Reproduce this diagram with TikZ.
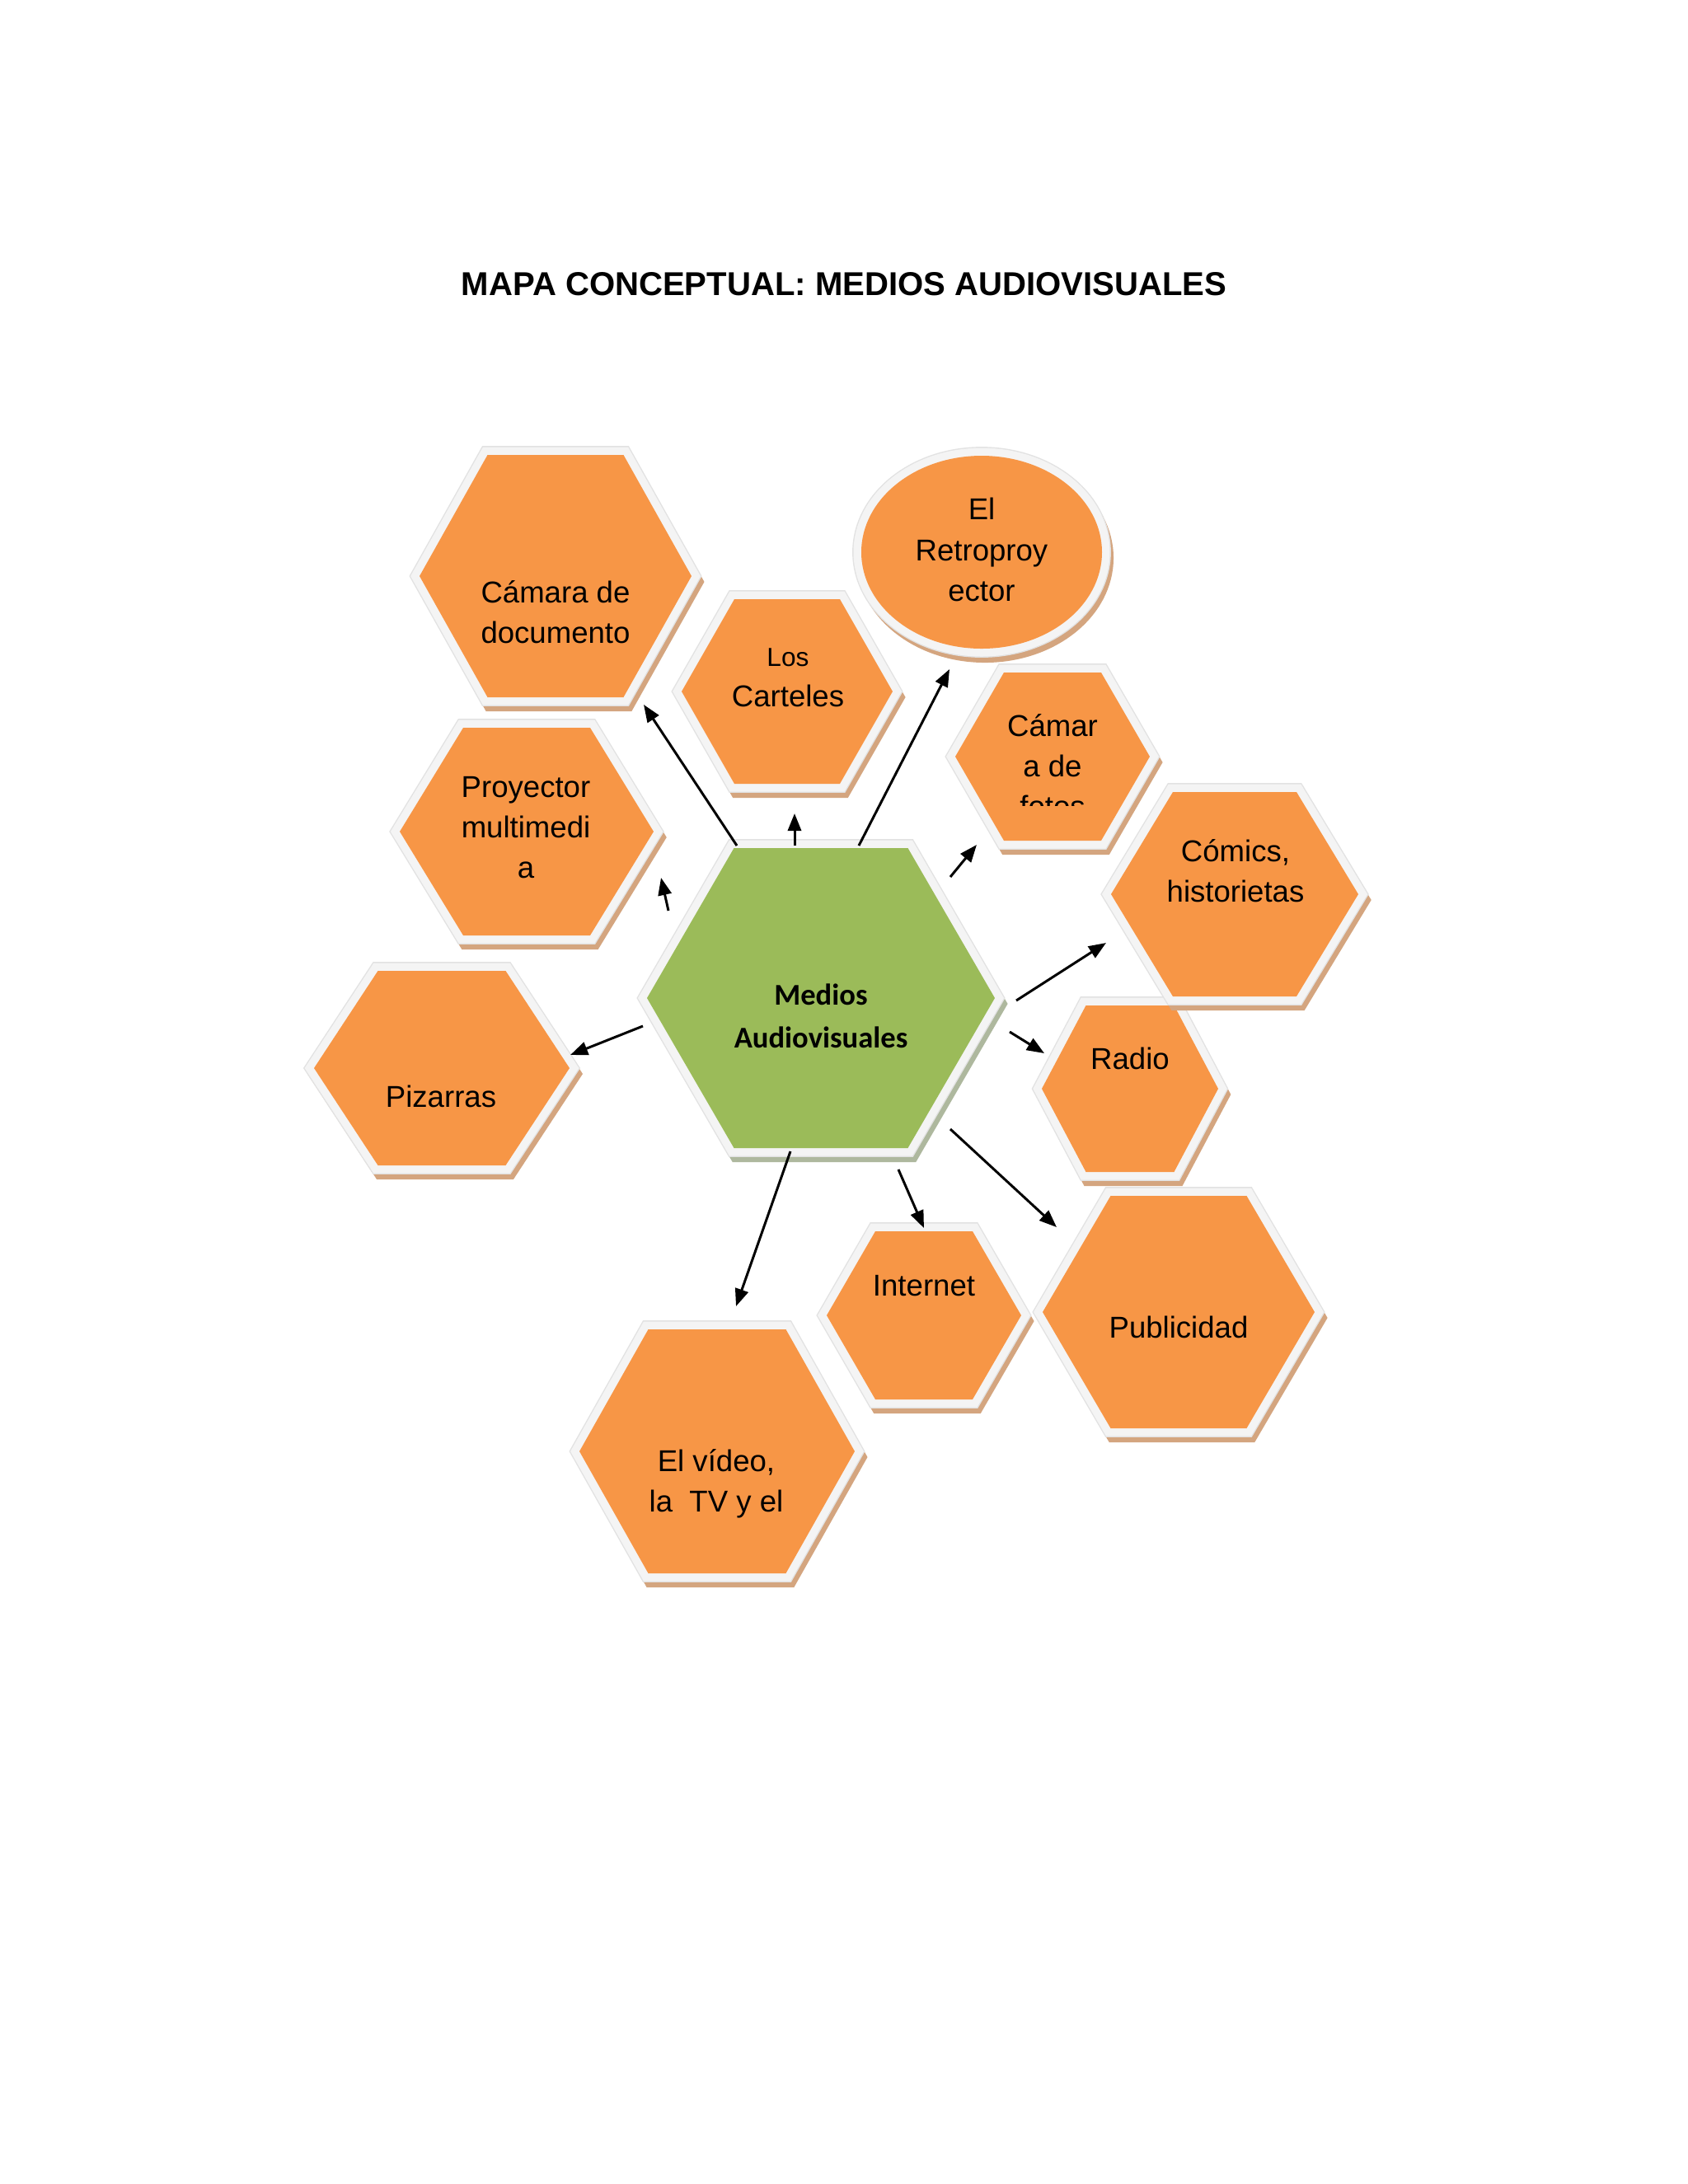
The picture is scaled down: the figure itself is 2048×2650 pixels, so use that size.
\documentclass[tikz,border=0pt]{standalone}
\usepackage{fontspec}
\setmainfont{Liberation Sans}
\newfontfamily\calibrifont{Carlito}
\usetikzlibrary{arrows.meta}
\definecolor{orangefill}{HTML}{F79646}
\definecolor{greenfill}{HTML}{9BBB59}
\definecolor{tanshadow}{HTML}{D4A57F}
\definecolor{greenshadow}{HTML}{AEB89E}
\definecolor{bandwhite}{HTML}{F4F4F4}
\definecolor{bandedge}{HTML}{E2E2E2}
% hexagon: cx, cy, a (half width), h (half height), fill, shadow
\newcommand\hexshape[6]{%
  \path[fill=#6,draw=#6,line width=5.7pt,line join=miter,shift={(4,7)}]
    ({#1-#3},{#2}) -- ({#1-#3/2},{#2-#4}) -- ({#1+#3/2},{#2-#4}) -- ({#1+#3},{#2}) -- ({#1+#3/2},{#2+#4}) -- ({#1-#3/2},{#2+#4}) -- cycle;
  \path[fill=bandedge,draw=bandedge,line width=6.2pt,line join=miter]
    ({#1-#3},{#2}) -- ({#1-#3/2},{#2-#4}) -- ({#1+#3/2},{#2-#4}) -- ({#1+#3},{#2}) -- ({#1+#3/2},{#2+#4}) -- ({#1-#3/2},{#2+#4}) -- cycle;
  \path[draw=bandwhite,line width=5.4pt,line join=miter]
    ({#1-#3},{#2}) -- ({#1-#3/2},{#2-#4}) -- ({#1+#3/2},{#2-#4}) -- ({#1+#3},{#2}) -- ({#1+#3/2},{#2+#4}) -- ({#1-#3/2},{#2+#4}) -- cycle;
  \path[fill=#5]
    ({#1-#3},{#2}) -- ({#1-#3/2},{#2-#4}) -- ({#1+#3/2},{#2-#4}) -- ({#1+#3},{#2}) -- ({#1+#3/2},{#2+#4}) -- ({#1-#3/2},{#2+#4}) -- cycle;
}
\tikzset{
  lbl/.style={align=center,inner sep=0pt,font=\fontsize{10.4}{14}\selectfont},
  centrelbl/.style={align=center,inner sep=0pt,font=\calibrifont\bfseries\fontsize{10.4}{14.8}\selectfont},
  titlelbl/.style={inner sep=0pt,font=\bfseries\fontsize{11.4}{13}\selectfont},
  arr/.style={line width=0.85pt,-{Triangle[length=6pt,width=4.6pt]}}
}
\begin{document}
\begin{tikzpicture}[x=0.01cm,y=-0.01cm]
\useasboundingbox[fill=white] (0,0) rectangle (2048,2650);

\node[titlelbl] (title) at (1024,345) {MAPA CONCEPTUAL: MEDIOS AUDIOVISUALES};

% shapes
\hexshape{674}{699}{165}{147}{orangefill}{tanshadow}
\hexshape{955}{839}{128}{112}{orangefill}{tanshadow}
% ellipse (retroproyector)
\path[fill=tanshadow,draw=tanshadow,line width=5.7pt,shift={(4,7)}] (1191,670) ellipse [x radius=146,y radius=117];
\path[fill=bandedge,draw=bandedge,line width=6.2pt] (1191,670) ellipse [x radius=146,y radius=117];
\path[draw=bandwhite,line width=5.4pt] (1191,670) ellipse [x radius=146,y radius=117];
\path[fill=orangefill] (1191,670) ellipse [x radius=146,y radius=117];
\hexshape{1277}{918}{118}{102}{orangefill}{tanshadow}
\hexshape{639}{1009}{154}{126}{orangefill}{tanshadow}
\hexshape{536}{1296}{155}{118}{orangefill}{tanshadow}
\hexshape{1371}{1321}{107}{101}{orangefill}{tanshadow}
\hexshape{1498}{1085}{150}{124}{orangefill}{tanshadow}
\hexshape{1121}{1596}{118}{102}{orangefill}{tanshadow}
\hexshape{1430}{1592}{165}{141}{orangefill}{tanshadow}
\hexshape{870}{1761}{167}{148}{orangefill}{tanshadow}
\hexshape{996}{1211}{211}{182}{greenfill}{greenshadow}

% labels
\node[lbl] (doc) at (674,743) {Cámara de\\documento};
\node[lbl] (carteles) at (956,822) {{\fontsize{9}{12}\selectfont Los}\\Carteles};
\node[lbl] (retro) at (1191,667) {El\\Retroproy\\ector};
\begin{scope}
  \clip (1120,820) rectangle (1440,977);
  \node[lbl] (fotos) at (1277,929) {Cámar\\a de\\fotos};
\end{scope}
\node[lbl] (comics) at (1499,1057) {Cómics,\\historietas};
\node[lbl] (radio) at (1371,1284) {Radio};
\node[lbl] (publicidad) at (1430,1610) {Publicidad};
\node[lbl] (internet) at (1121,1560) {Internet};
\node[lbl] (video) at (869,1800) {El vídeo,\\la\ \ TV y el};
\node[lbl] (proyector) at (638,1004) {Proyector\\multimedi\\a};
\node[lbl] (pizarras) at (535,1330) {Pizarras};
\node[centrelbl] (medios) at (996,1233) {Medios\\Audiovisuales};

% arrow end points
\coordinate (s1) at (894,1026);  \coordinate (e1) at (781,855);
\coordinate (s2) at (964,1026);  \coordinate (e2) at (964,987);
\coordinate (s3) at (1042,1026); \coordinate (e3) at (1152,812);
\coordinate (s4) at (1153,1064); \coordinate (e4) at (1185,1025);
\coordinate (s5) at (1233,1214); \coordinate (e5) at (1342,1144);
\coordinate (s6) at (1225,1252); \coordinate (e6) at (1267,1278);
\coordinate (s7) at (1153,1370); \coordinate (e7) at (1282,1489);
\coordinate (s8) at (1090,1419); \coordinate (e8) at (1121,1490);
\coordinate (s9) at (959,1397);  \coordinate (e9) at (893,1585);
\coordinate (s10) at (811,1105); \coordinate (e10) at (802,1065);
\coordinate (s11) at (780,1245); \coordinate (e11) at (692,1280);

\foreach \i in {1,...,11}{\draw[arr] (s\i) -- (e\i);}
\end{tikzpicture}
\end{document}
